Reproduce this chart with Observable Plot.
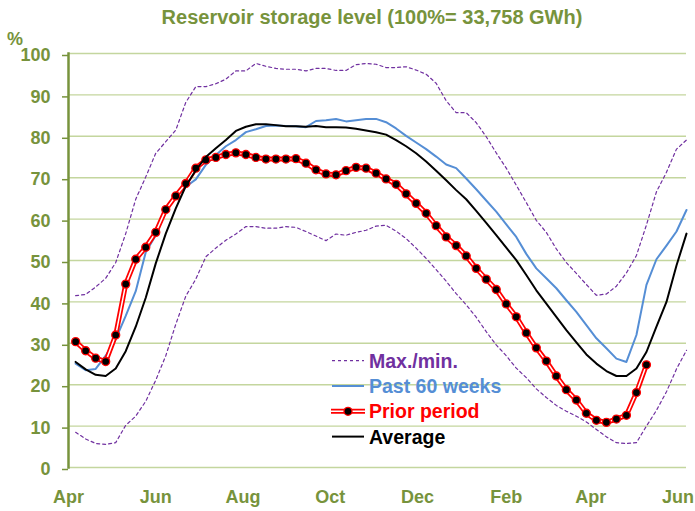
<!DOCTYPE html>
<html><head><meta charset="utf-8">
<script src="https://cdn.jsdelivr.net/npm/d3@7"></script>
<script src="https://cdn.jsdelivr.net/npm/@observablehq/plot@0.6"></script>
<style>body{margin:0;background:#fff} #chart{width:695px;height:511px}</style>
</head><body><div id="chart"></div>
<script>
// ---------- data ----------
const title = "Reservoir storage level (100%= 33,758 GWh)";
const yUnit = "%";
const firstWeek = "2014-04-06";   // weekly observations
const xDomain = ["2014-04-01", "2015-06-07"];
const xTickMonths = ["2014-04-01","2014-06-01","2014-08-01","2014-10-01","2014-12-01","2015-02-01","2015-04-01","2015-06-01"];
const xTickLabels = ["Apr","Jun","Aug","Oct","Dec","Feb","Apr","Jun"];
const yTicks = [0,10,20,30,40,50,60,70,80,90,100];
const seriesNames = ["Max./min.", "Past 60 weeks", "Prior period", "Average"];

const maxLevel = [41.5,41.8,43.6,45.7,49.5,56.5,64.8,70.2,75.9,78.7,
  81.5,88.2,92.0,92.0,92.7,93.8,95.8,95.8,97.6,96.9,
  96.4,96.2,96.2,95.8,96.4,96.4,95.9,95.9,97.3,97.6,
  97.4,96.6,96.6,96.8,96.0,95.0,92.8,88.6,85.7,85.7,
  83.3,79.9,76.0,72.3,68.2,64.0,59.7,56.8,52.8,49.5,
  46.9,44.2,41.6,41.9,43.8,47.0,51.2,58.6,66.6,71.3,
  76.9,79.1];
const minLevel = [8.5,6.9,5.8,5.6,6.0,10.2,12.4,16.0,21.1,27.0,
  34.6,41.4,45.5,50.9,53.0,54.9,56.4,58.2,58.2,57.8,
  57.8,58.2,58.0,57.0,55.9,54.8,56.4,56.1,56.8,57.3,
  58.3,58.5,57.1,55.3,53.0,50.5,47.8,45.0,42.0,39.3,
  36.3,32.8,29.6,27.0,24.0,21.7,19.0,16.9,15.0,13.6,
  12.4,11.0,9.2,7.4,6.0,5.8,6.0,10.0,13.8,18.3,
  23.8,28.3];
const past60 = [25.1,23.5,23.8,27.0,31.0,36.6,42.6,52.0,56.1,62.0,
  65.4,67.8,69.6,73.1,75.5,77.6,79.1,81.0,81.7,82.5,
  82.6,82.5,82.4,82.2,83.7,83.9,84.2,83.6,83.9,84.2,
  84.2,83.4,81.9,80.1,78.5,76.9,75.1,73.2,72.3,69.8,
  67.2,64.5,61.8,58.7,55.7,51.6,48.1,45.7,43.3,40.4,
  37.6,34.4,31.2,28.8,26.3,25.5,32.0,44.1,50.3,53.6,
  57.0,62.2];
const prior = [30.4,28.2,26.4,25.6,32.0,44.3,50.3,53.2,56.8,62.3,
  65.6,68.6,72.3,74.3,74.9,75.6,76.0,75.6,74.9,74.5,
  74.5,74.5,74.6,73.5,71.9,70.9,70.7,71.7,72.5,72.3,
  71.1,69.7,68.4,66.1,63.8,61.4,58.4,55.7,53.6,51.1,
  48.1,45.5,43.0,39.5,36.4,32.5,28.9,25.7,22.1,18.8,
  16.3,13.1,11.4,10.9,11.7,12.6,18.1,24.8];
const average = [25.5,23.7,22.4,22.1,23.9,28.1,34.0,41.0,49.3,56.5,
  62.6,68.0,71.8,75.0,77.1,79.1,81.3,82.3,82.9,82.9,
  82.7,82.4,82.4,82.3,82.5,82.2,82.2,82.1,81.8,81.4,
  81.0,80.4,79.1,77.6,75.9,73.9,71.7,69.4,67.0,64.8,
  62.0,59.1,56.1,53.1,50.1,46.5,42.8,39.6,36.4,33.2,
  30.2,27.3,25.1,23.3,22.1,22.1,23.9,27.9,34.0,40.0,
  48.8,56.5];

// ---------- styling ----------
const olive = "#77933C", gridC = "#C4D69E", purple = "#7030A0", blue = "#558ED5", red = "#FF0000";
const font = "'Liberation Sans', Arial, sans-serif";

const start = new Date(firstWeek + "T00:00:00Z");
const weekDate = i => d3.utcDay.offset(start, 7 * i);
const rows = maxLevel.map((v, i) => ({date: weekDate(i), max: v, min: minLevel[i], past: past60[i], avg: average[i]}));
const priorRows = prior.map((v, i) => ({date: weekDate(i), v}));
const tickDates = xTickMonths.map(s => new Date(s + "T00:00:00Z"));
const labelMap = new Map(tickDates.map((d, i) => [+d, xTickLabels[i]]));

const chart = Plot.plot({
  width: 695, height: 511,
  marginLeft: 68, marginRight: 9, marginTop: 53, marginBottom: 44,
  style: {fontFamily: font, fontWeight: "bold", background: "white", overflow: "visible"},
  x: {type: "utc", domain: xDomain.map(s => new Date(s + "T00:00:00Z"))},
  y: {domain: [0, 100]},
  marks: [
    Plot.gridY(yTicks, {stroke: gridC, strokeOpacity: 1, strokeWidth: 1.4}),
    Plot.axisY(yTicks, {tickSize: 6, tickPadding: 12, color: olive, fontSize: 18, fontWeight: "bold", dy: 2, strokeWidth: 1.5, label: null}),
    Plot.axisX(tickDates, {tickSize: 0, tickPadding: 23, tickFormat: d => labelMap.get(+d), color: olive, fontSize: 18, fontWeight: "bold", label: null}),
    Plot.frame({anchor: "left", stroke: olive, strokeWidth: 2.5}),
    Plot.line(rows, {x: "date", y: "max", stroke: purple, strokeWidth: 1.2, strokeDasharray: "3,3"}),
    Plot.line(rows, {x: "date", y: "min", stroke: purple, strokeWidth: 1.2, strokeDasharray: "3,3"}),
    Plot.line(rows, {x: "date", y: "past", stroke: blue, strokeWidth: 2}),
    Plot.line(priorRows, {x: "date", y: "v", stroke: red, strokeWidth: 5}),
    Plot.line(priorRows, {x: "date", y: "v", stroke: "white", strokeWidth: 1.5}),
    Plot.dot(priorRows, {x: "date", y: "v", r: 4, fill: "black", stroke: red, strokeWidth: 1.3}),
    Plot.line(rows, {x: "date", y: "avg", stroke: "black", strokeWidth: 2})
  ]
});
document.getElementById("chart").appendChild(chart);

// ---------- title, unit, legend ----------
const svg = d3.select(chart);
svg.append("text").attr("x", 372).attr("y", 24).attr("text-anchor", "middle")
  .attr("font-family", font).attr("font-weight", "bold").attr("font-size", 20).attr("fill", olive).text(title);
svg.append("text").attr("x", 7).attr("y", 45).attr("text-anchor", "start")
  .attr("font-family", font).attr("font-weight", "bold").attr("font-size", 18).attr("fill", olive).text(yUnit);

const legColors = [purple, blue, red, "black"];
const lg = svg.append("g").attr("font-family", font).attr("font-weight", "bold").attr("font-size", 19.5).attr("text-anchor", "start");
seriesNames.forEach((name, i) => {
  const cy = 360.7 + i * 25.3;
  const g = lg.append("g").attr("transform", `translate(0,${cy})`);
  if (i === 0) g.append("line").attr("x1", 332).attr("x2", 364).attr("stroke", purple).attr("stroke-width", 1.2).attr("stroke-dasharray", "3,3");
  if (i === 1) g.append("line").attr("x1", 332).attr("x2", 364).attr("stroke", blue).attr("stroke-width", 2);
  if (i === 2) {
    g.append("line").attr("x1", 331).attr("x2", 365).attr("stroke", red).attr("stroke-width", 5);
    g.append("line").attr("x1", 331).attr("x2", 365).attr("stroke", "white").attr("stroke-width", 1.5);
    g.append("circle").attr("cx", 348).attr("r", 4).attr("fill", "black").attr("stroke", red).attr("stroke-width", 1.3);
  }
  if (i === 3) g.append("line").attr("x1", 332).attr("x2", 364).attr("stroke", "black").attr("stroke-width", 2);
  g.append("text").attr("x", 369).attr("y", 7).attr("text-anchor", "start").attr("fill", legColors[i]).text(name);
});
</script></body></html>
